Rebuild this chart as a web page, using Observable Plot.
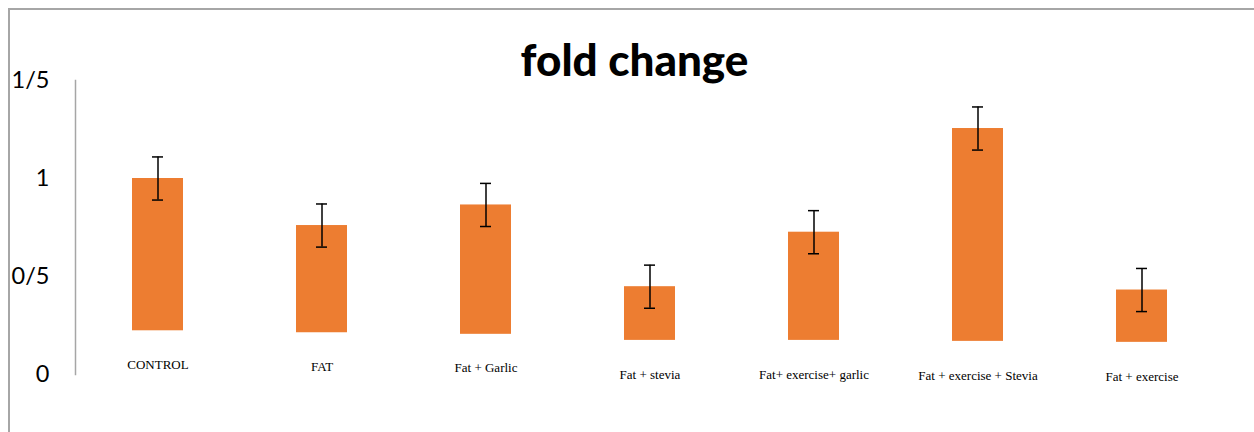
<!DOCTYPE html>
<html>
<head>
<meta charset="utf-8">
<script src="https://cdn.jsdelivr.net/npm/d3@7"></script>
<script src="https://cdn.jsdelivr.net/npm/@observablehq/plot@0.6"></script>
<style>
  html, body { margin: 0; padding: 0; background: #fff; }
  #wrap { position: relative; width: 1254px; height: 432px; overflow: hidden; }
  #border { position: absolute; left: 8px; top: 8px; width: 1300px; height: 500px;
            border-left: 2px solid #a6a6a6; border-top: 2px solid #a6a6a6; box-sizing: border-box; }
  #chart { position: absolute; left: 0; top: 0; }
</style>
</head>
<body>
<div id="wrap"><div id="border"></div><div id="chart"></div></div>
<script>
const categories = ["CONTROL", "FAT", "Fat + Garlic", "Fat + stevia", "Fat+ exercise+ garlic", "Fat + exercise + Stevia", "Fat + exercise"];
const values = [1.0, 0.76, 0.865, 0.448, 0.726, 1.255, 0.431];
const bases = [0.223, 0.213, 0.205, 0.174, 0.174, 0.169, 0.164];
const errors = [0.11, 0.11, 0.11, 0.11, 0.11, 0.11, 0.11];
const yTicks = [0, 0.5, 1, 1.5];

const data = categories.map((c, i) => ({cat: c, value: values[i], base: bases[i], err: errors[i]}));

const plot = Plot.plot({
  width: 1254,
  height: 432,
  marginLeft: 75,
  marginRight: 29,
  marginTop: 80,
  marginBottom: 58,
  style: {background: "transparent", overflow: "visible"},
  x: {domain: categories, paddingInner: 0.687, paddingOuter: 0.342, axis: null},
  y: {domain: [0, 1.5], axis: null},
  marks: [
    Plot.frame({anchor: "left", stroke: "#a6a6a6", strokeWidth: 1.5, strokeOpacity: 1}),
    Plot.axisY({ticks: yTicks, tickSize: 0, tickPadding: 26, tickFormat: d => String(d).replace(".", "/"),
      fontSize: 23.5, fontFamily: "Lato", fill: "#000"}),
    Plot.barY(data, {x: "cat", y1: "base", y2: "value", fill: "#ED7D31"}),
    Plot.ruleX(data, {x: "cat", y1: d => d.value - d.err, y2: d => d.value + d.err, stroke: "#000", strokeWidth: 1.5}),
    Plot.tickY(data, {x: "cat", y: d => d.value + d.err, stroke: "#000", strokeWidth: 1.5, insetLeft: 20, insetRight: 20}),
    Plot.tickY(data, {x: "cat", y: d => d.value - d.err, stroke: "#000", strokeWidth: 1.5, insetLeft: 20, insetRight: 20}),
    Plot.text(data, {x: "cat", y: "base", text: "cat", dy: 34, lineAnchor: "middle",
      fontFamily: "Liberation Serif", fontSize: 13, fill: "#000"}),
    Plot.text(["fold change"], {frameAnchor: "top", lineAnchor: "bottom", dy: -5, dx: -16,
      fontFamily: "Lato", fontWeight: 900, fontSize: 44, fill: "#000"})
  ]
});
document.getElementById("chart").appendChild(plot);
</script>
</body>
</html>
